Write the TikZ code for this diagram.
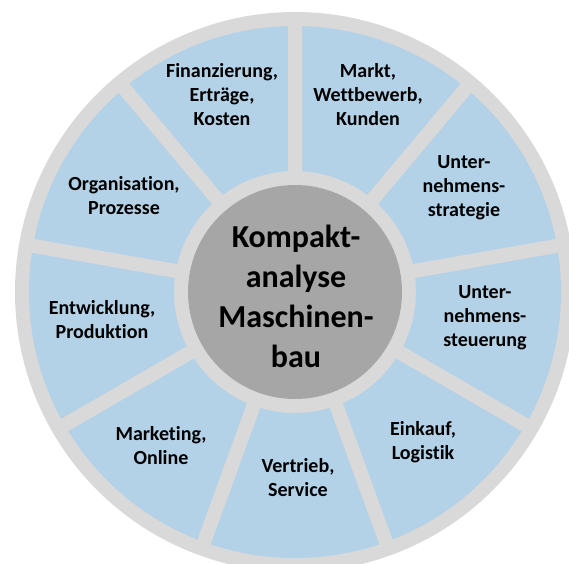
\documentclass[tikz,border=0pt]{standalone}
\usepackage{fontspec}
\setmainfont[Ligatures=NoCommon]{Carlito}
\definecolor{ringgray}{RGB}{217,217,217}
\definecolor{sectorblue}{RGB}{180,210,231}
\definecolor{hubgray}{RGB}{166,166,166}
\begin{document}
\begin{tikzpicture}[x=1pt,y=1pt,
  lbl/.style={font=\bfseries\fontsize{20}{24}\selectfont, align=center, text=black, inner sep=0pt},
  title/.style={font=\bfseries\fontsize{32}{40}\selectfont, align=center, text=black, inner sep=0pt},
  spoke/.style={draw=ringgray, line width=14pt},
  hub/.style={circle, fill=hubgray, minimum size=214pt, inner sep=0pt}]
\useasboundingbox (0,0) rectangle (569,563);
\clip (0,0) rectangle (569,563);
\coordinate (C) at (295,271);
\fill[ringgray] (C) circle[radius=280];
\fill[sectorblue, even odd rule] (C) circle[radius=266] (C) circle[radius=121];
\foreach \a in {10,50,...,330} \draw[spoke] (C) -- ++(\a:273);
\node[hub] (hub) at (C) {};
\node[title] (t) at (296,267) {Kompakt-\\analyse\\Maschinen-\\bau};
\node[lbl] (fin) at (222,468) {Finanzierung,\\Erträge,\\Kosten};
\node[lbl] (markt) at (368,468) {Markt,\\Wettbewerb,\\Kunden};
\node[lbl] (strat) at (464,375) {Unter-\\nehmens-\\strategie};
\node[lbl] (steu) at (485,245) {Unter-\\nehmens-\\steuerung};
\node[lbl] (eink) at (423,121) {Einkauf,\\Logistik};
\node[lbl] (vert) at (298,85) {Vertrieb,\\Service};
\node[lbl] (mark) at (161,117) {Marketing,\\Online};
\node[lbl] (entw) at (102,243) {Entwicklung,\\Produktion};
\node[lbl] (org) at (124,367) {Organisation,\\Prozesse};
\end{tikzpicture}
\end{document}
